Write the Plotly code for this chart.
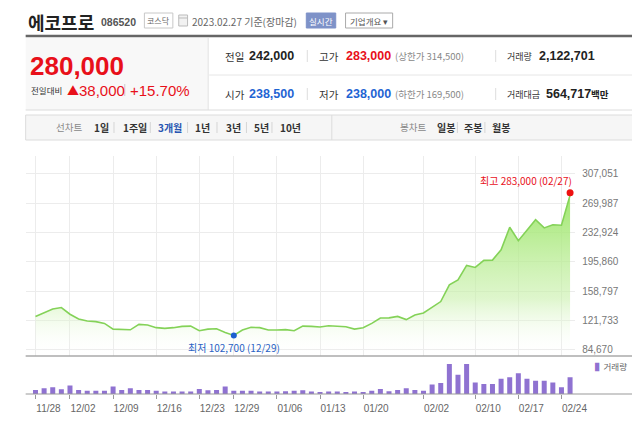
import plotly.graph_objects as go

# ---------------- data ----------------
dates = ["11/28", "11/29", "11/30", "12/01", "12/02", "12/05", "12/06", "12/07", "12/08", "12/09",
         "12/12", "12/13", "12/14", "12/15", "12/16", "12/19", "12/20", "12/21", "12/22", "12/23",
         "12/26", "12/27", "12/28", "12/29", "01/02", "01/03", "01/04", "01/05", "01/06",
         "01/09", "01/10", "01/11", "01/12", "01/13", "01/16", "01/17", "01/18", "01/19", "01/20",
         "01/25", "01/26", "01/27", "01/30", "01/31", "02/01", "02/02", "02/03",
         "02/06", "02/07", "02/08", "02/09", "02/10", "02/13", "02/14", "02/15", "02/16", "02/17",
         "02/20", "02/21", "02/22", "02/23", "02/24", "02/27"]

close_prices = [126500, 131500, 136000, 137900, 129500, 123400, 120900, 120100, 117900, 110700,
                110000, 109800, 116700, 115800, 112500, 111600, 112500, 114100, 114500, 108700,
                110700, 111200, 106500, 102700, 109500, 112900, 112500, 109500, 109500,
                110000, 108700, 114500, 114100, 113300, 115000, 114100, 113700, 110700, 112500,
                117900, 124700, 124900, 126700, 122700, 128500, 131000, 137900,
                145500, 166600, 172900, 191200, 188600, 197500, 197900, 211000, 239400, 222400,
                236300, 249000, 238500, 242500, 242000, 280000]

volumes = [520000, 720000, 840000, 600000, 1080000, 520000, 400000, 400000, 400000, 960000,
           520000, 720000, 520000, 520000, 400000, 320000, 320000, 320000, 320000, 640000,
           480000, 520000, 960000, 400000, 400000, 400000, 320000, 320000, 320000,
           360000, 400000, 480000, 320000, 260000, 320000, 320000, 260000, 320000, 240000,
           400000, 640000, 360000, 520000, 720000, 520000, 400000, 1200000,
           1400000, 3800000, 2440000, 3800000, 1440000, 1280000, 1280000, 1920000, 2120000, 2640000,
           1920000, 1680000, 1680000, 1440000, 840000, 2122701]

tick_dates = ["11/28", "12/02", "12/09", "12/16", "12/23", "12/29", "01/06", "01/13",
              "01/20", "02/02", "02/10", "02/17", "02/24"]
price_ticks = [84670, 121733, 158797, 195860, 232924, 269987, 307051]

high_date, high_value = "02/27", 283000
low_date, low_value = "12/29", 102700

# ---------------- styling helpers ----------------
W, H = 640, 427
KF = "Noto Sans CJK KR, Liberation Sans, sans-serif"
NF = "Liberation Sans, Noto Sans CJK KR, sans-serif"
RED = "#e8101a"
BLUE = "#1f64d3"
LINE_GREEN = "#84d258"

annotations = []
shapes = []


def px(x):
    return x / W


def py(y):
    return 1 - y / H


def T(x, y, text, size=11, color="#333", anchor="left", bold=False, family=KF):
    annotations.append(dict(x=px(x), y=py(y), xref="paper", yref="paper",
                            text=f"<b>{text}</b>" if bold else text, showarrow=False,
                            xanchor=anchor, yanchor="middle", borderpad=0,
                            font=dict(size=size, color=color, family=family)))


def L(x0, y0, x1, y1, color="#ddd", width=1):
    shapes.append(dict(type="line", xref="paper", yref="paper", x0=px(x0), y0=py(y0),
                       x1=px(x1), y1=py(y1), line=dict(color=color, width=width)))


def R(x0, y0, x1, y1, fill="rgba(0,0,0,0)", line="#ccc", width=1):
    shapes.append(dict(type="rect", xref="paper", yref="paper", x0=px(x0), y0=py(y0),
                       x1=px(x1), y1=py(y1), fillcolor=fill,
                       line=dict(color=line, width=width), layer="below"))


# ---------------- header ----------------
T(19, 13.5, "에코프로", 18, "#222", bold=True)
T(94, 13.5, "086520", 10.5, "#555", bold=True, family=NF)
R(139, 5, 168, 20, fill="white", line="#c8c8c8")
T(153.5, 12.5, "코스닥", 8, "#666", anchor="center")
R(174, 7, 183, 18, fill="#f2f2f2", line="#bbb")
L(174, 10, 183, 10, "#bbb")
T(187, 13, "2023.02.27 기준(장마감)", 10, "#666")
R(304, 5, 334, 20, fill="#7e92c8", line="#7e92c8")
T(319, 12.5, "실시간", 8.5, "white", anchor="center")
R(344, 5, 392, 20, fill="white", line="#aaa")
T(368, 12.5, "기업개요 ▾", 8.5, "#555", anchor="center")
L(18, 28, 640, 28, "#666", 2.5)

# ---------------- info panel ----------------
R(18, 30, 204, 102, fill="#f8f8f8", line="rgba(0,0,0,0)")
L(204, 30, 204, 102, "#e2e2e2")
T(21, 58, "280,000", 26, RED, bold=True, family=NF)
T(22, 82, "전일대비", 8.5, "#333")
T(59, 82, "▲", 12, RED)
T(71, 82, "38,000", 15, RED, family=NF)
L(119, 76, 119, 88, "#ccc")
T(123, 82, "+15.70%", 15, RED, family=NF)

L(205, 67, 640, 67, "#e6e6e6")
L(18, 102, 640, 102, "#dcdcdc")
for yy in (48, 86):
    L(305, yy - 6, 305, yy + 6, "#ddd")
    L(497, yy - 6, 497, yy + 6, "#ddd")

KS = 10.5
VS = 12.5
T(220, 48, "전일", KS, "#333")
T(245, 48, "242,000", VS, "#222", bold=True, family=NF)
T(316, 48, "고가", KS, "#333")
T(343, 48, "283,000", VS, RED, bold=True, family=NF)
T(393, 48, "(상한가 314,500)", 9.5, "#888")
T(508, 48, "거래량", 9, "#333")
T(540, 48, "2,122,701", VS, "#222", bold=True, family=NF)

T(220, 86, "시가", KS, "#333")
T(245, 86, "238,500", VS, BLUE, bold=True, family=NF)
T(316, 86, "저가", KS, "#333")
T(343, 86, "238,000", VS, BLUE, bold=True, family=NF)
T(393, 86, "(하한가 169,500)", 9.5, "#888")
T(508, 86, "거래대금", 9, "#333")
T(547, 86, "564,717", VS, "#222", bold=True, family=NF)
T(593, 86, "백만", 9.5, "#222", bold=True)

# ---------------- tab bar ----------------
R(18, 107, 640, 132, fill="#f6f6f6", line="#dcdcdc")
L(330, 107, 330, 132, "#dcdcdc")
ty = 119.5
TS = 10
T(48, ty, "선차트", 9.5, "#888")
T(87, ty, "1일", TS, "#333", bold=True)
T(116, ty, "1주일", TS, "#333", bold=True)
T(152, ty, "3개월", TS, "#2956b2", bold=True)
T(190, ty, "1년", TS, "#333", bold=True)
T(221, ty, "3년", TS, "#333", bold=True)
T(250, ty, "5년", TS, "#333", bold=True)
T(276, ty, "10년", TS, "#333", bold=True)
for sx in (108, 145, 183, 213, 243, 269):
    L(sx, 114, sx, 125, "#d5d5d5")
T(398, ty, "봉차트", 9.5, "#888")
T(436, ty, "일봉", TS, "#333", bold=True)
T(464, ty, "주봉", TS, "#333", bold=True)
T(492, ty, "월봉", TS, "#333", bold=True)
for sx in (458, 486):
    L(sx, 114, sx, 125, "#d5d5d5")

# ---------------- chart frame lines ----------------
L(18, 348, 640, 348, "#aaa", 1.5)
L(18, 386, 640, 386, "#999", 1)
L(18, 421, 640, 421, "#999", 2)
R(313, 421, 347, 427, fill="#f4f4f4", line="#ccc")

# volume legend
T(597, 358, "<span style='color:#8f72d1'>▌</span>거래량", 8.5, "#666")

# ---------------- traces ----------------
fig = go.Figure()

fig.add_trace(go.Scatter(
    x=dates, y=close_prices, mode="lines", xaxis="x", yaxis="y",
    line=dict(color=LINE_GREEN, width=1.6),
    fill="tozeroy",
    fillgradient=dict(type="vertical",
                      colorscale=[[0, "rgba(255,255,255,0)"], [0.35, "rgba(200,240,170,0.6)"],
                                  [1, "rgba(150,228,95,0.95)"]],
                      start=76710, stop=285000),
    hoverinfo="skip", showlegend=False))

fig.add_trace(go.Scatter(
    x=[high_date], y=[high_value], mode="markers", xaxis="x", yaxis="y",
    marker=dict(color="#ee1111", size=7), showlegend=False, hoverinfo="skip"))
fig.add_trace(go.Scatter(
    x=[low_date], y=[low_value], mode="markers", xaxis="x", yaxis="y",
    marker=dict(color="#1d5fd0", size=6), showlegend=False, hoverinfo="skip"))

fig.add_trace(go.Bar(
    x=dates, y=volumes, xaxis="x2", yaxis="y2",
    marker=dict(color="#8f72d1", line=dict(width=0)), width=0.58,
    showlegend=False, hoverinfo="skip"))

annotations.append(dict(x=high_date, y=high_value, xref="x", yref="y",
                        text=f"최고 {high_value:,} ({high_date})", showarrow=False,
                        xanchor="right", yanchor="bottom", xshift=4, yshift=3,
                        font=dict(size=10, color="#e8101a", family=KF)))
annotations.append(dict(x=low_date, y=low_value, xref="x", yref="y",
                        text=f"최저 {low_value:,} ({low_date})", showarrow=False,
                        xanchor="center", yanchor="top", yshift=-3,
                        font=dict(size=10, color="#2a62c4", family=KF)))

xrange = [-1.14, 62.59]
fig.update_layout(
    width=W, height=H, margin=dict(l=0, r=0, t=0, b=0),
    paper_bgcolor="white", plot_bgcolor="white",
    xaxis=dict(domain=[px(18), px(578)], type="category", range=xrange, anchor="y",
               tickvals=tick_dates, showticklabels=False, showgrid=True,
               gridcolor="#ececec", gridwidth=1, zeroline=False, showline=False,
               fixedrange=True),
    yaxis=dict(domain=[py(348), py(148)], range=[76710, 329415], anchor="x", side="right",
               tickvals=price_ticks, ticktext=[f"{v:,}" for v in price_ticks],
               showgrid=True, gridcolor="#ececec", zeroline=False, showline=False,
               ticks="", ticklabelstandoff=6,
               tickfont=dict(size=10, color="#777", family=NF)),
    xaxis2=dict(domain=[px(18), px(578)], type="category", range=xrange, anchor="y2",
                matches="x", tickvals=tick_dates, ticktext=tick_dates,
                showgrid=False, zeroline=False, showline=False,
                ticks="outside", ticklen=4, tickcolor="#999", ticklabelshift=13,
                ticklabelstandoff=1,
                tickfont=dict(size=10, color="#666", family=NF)),
    yaxis2=dict(domain=[py(386), py(352)], range=[0, 4300000], anchor="x2",
                showticklabels=False, showgrid=False, zeroline=False, showline=False),
    annotations=annotations, shapes=shapes,
)

fig.write_html("out.html")
